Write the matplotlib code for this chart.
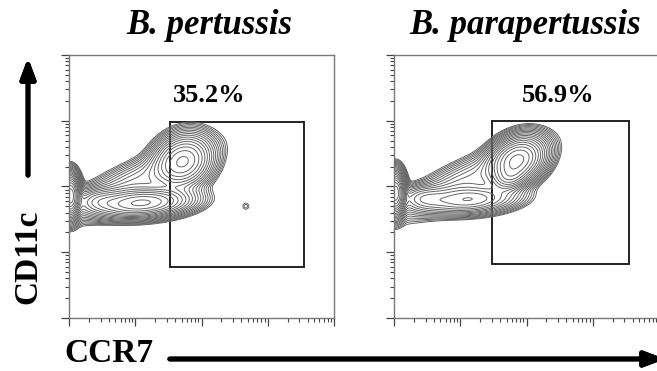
# coding: UTF-8

import numpy as np
import matplotlib.pyplot as plt
from matplotlib.patches import Rectangle

# パネルのタイトルとゲート内の割合
titles = ["B. pertussis", "B. parapertussis"]
gate_pct = ["35.2%", "56.9%"]

# ゲート（log10 単位: x0, x1, y0, y1）
gate_x0 = [1.52, 1.48]
gate_x1 = [3.55, 3.55]
gate_y0 = [0.78, 0.82]
gate_y1 = [2.98, 3.00]

# 細胞集団（log10 単位の中心・広がり・傾き・重み）— 図から読み取った値
pert_cx = [0.02, 1.10, 1.72, 1.00, 0.45, 2.67]
pert_cy = [1.86, 1.75, 2.38, 2.05, 1.78, 1.70]
pert_sx = [0.07, 0.36, 0.23, 0.60, 0.20, 0.05]
pert_sy = [0.16, 0.11, 0.19, 0.16, 0.10, 0.05]
pert_ang = [0, 4, 35, 25, 0, 0]
pert_w = [6.0, 3.0, 2.2, 0.35, 0.6, 0.045]

para_cx = [0.02, 1.86, 1.75, 1.15, 1.10, 0.45]
para_cy = [1.90, 2.40, 2.14, 1.80, 2.08, 1.82]
para_sx = [0.07, 0.22, 0.14, 0.36, 0.60, 0.20]
para_sy = [0.16, 0.16, 0.10, 0.11, 0.16, 0.10]
para_ang = [0, 30, 20, 4, 25, 0]
para_w = [6.0, 4.0, 1.2, 1.2, 0.35, 0.5]

panels = [
    (pert_cx, pert_cy, pert_sx, pert_sy, pert_ang, pert_w),
    (para_cx, para_cy, para_sx, para_sy, para_ang, para_w),
]


def density(gx, gy, cx, cy, sx, sy, ang, w):
    d = np.zeros_like(gx)
    for i in range(len(cx)):
        t = np.deg2rad(ang[i])
        dx = gx - cx[i]
        dy = gy - cy[i]
        u = dx * np.cos(t) + dy * np.sin(t)
        v = -dx * np.sin(t) + dy * np.cos(t)
        d += w[i] * np.exp(-0.5 * ((u / sx[i]) ** 2 + (v / sy[i]) ** 2))
    return d


plt.rcParams['font.family'] = ['Liberation Serif', 'DejaVu Serif']

W, H = 657, 371
fig = plt.figure(figsize=(W / 100, H / 100), dpi=100)

ax_left_px = [69, 394]
ax_w_px = 265
ax_top_px = 55
ax_bot_px = 318
pct_x_px = [209, 558]
title_x_px = [209, 525]

lg = np.linspace(0, 4, 500)
gx, gy = np.meshgrid(lg, lg)

for k in range(2):
    ax = fig.add_axes([ax_left_px[k] / W, 1 - ax_bot_px / H,
                       ax_w_px / W, (ax_bot_px - ax_top_px) / H])
    d = density(gx, gy, *panels[k])
    levels = np.geomspace(0.03, d.max() * 0.8, 20)
    ax.contour(10 ** gx, 10 ** gy, d, levels=levels,
               colors='#666666', linewidths=0.7)

    ax.set_xscale('log')
    ax.set_yscale('log')
    ax.set_xlim(1, 1e4)
    ax.set_ylim(1, 1e4)
    ax.tick_params(which='major', direction='out', length=6, width=0.9,
                   color='#444444', labelbottom=False, labelleft=False)
    ax.tick_params(which='minor', direction='out', length=3, width=0.8,
                   color='#444444')
    for s in ax.spines.values():
        s.set_color('#777777')
        s.set_linewidth(1.0)

    ax.add_patch(Rectangle((10 ** gate_x0[k], 10 ** gate_y0[k]),
                           10 ** gate_x1[k] - 10 ** gate_x0[k],
                           10 ** gate_y1[k] - 10 ** gate_y0[k],
                           fill=False, edgecolor='#222222', linewidth=1.4))

    fig.text(pct_x_px[k] / W, 1 - 95 / H, gate_pct[k],
             ha='center', va='center', fontsize=19, fontweight='bold')
    fig.text(title_x_px[k] / W, 1 - 25 / H, titles[k],
             ha='center', va='center', fontsize=25, fontweight='bold',
             fontstyle='italic')

# 軸ラベルと矢印
fig.text(28 / W, 1 - 257 / H, "CD11c", rotation=90, ha='center', va='center',
         fontsize=24, fontweight='bold')
fig.text(109 / W, 1 - 353 / H, "CCR7", ha='center', va='center',
         fontsize=24, fontweight='bold')

arrow = dict(arrowstyle='-|>,head_length=1.2,head_width=0.45', color='black', lw=3.5)
fig.add_artist(plt.annotate('', xy=(28 / W, 1 - 55 / H), xytext=(28 / W, 1 - 178 / H),
                            xycoords='figure fraction', arrowprops=arrow))
fig.add_artist(plt.annotate('', xy=(668 / W, 1 - 359 / H), xytext=(167 / W, 1 - 359 / H),
                            xycoords='figure fraction', arrowprops=arrow))

fig.savefig("out.png", dpi=100)
